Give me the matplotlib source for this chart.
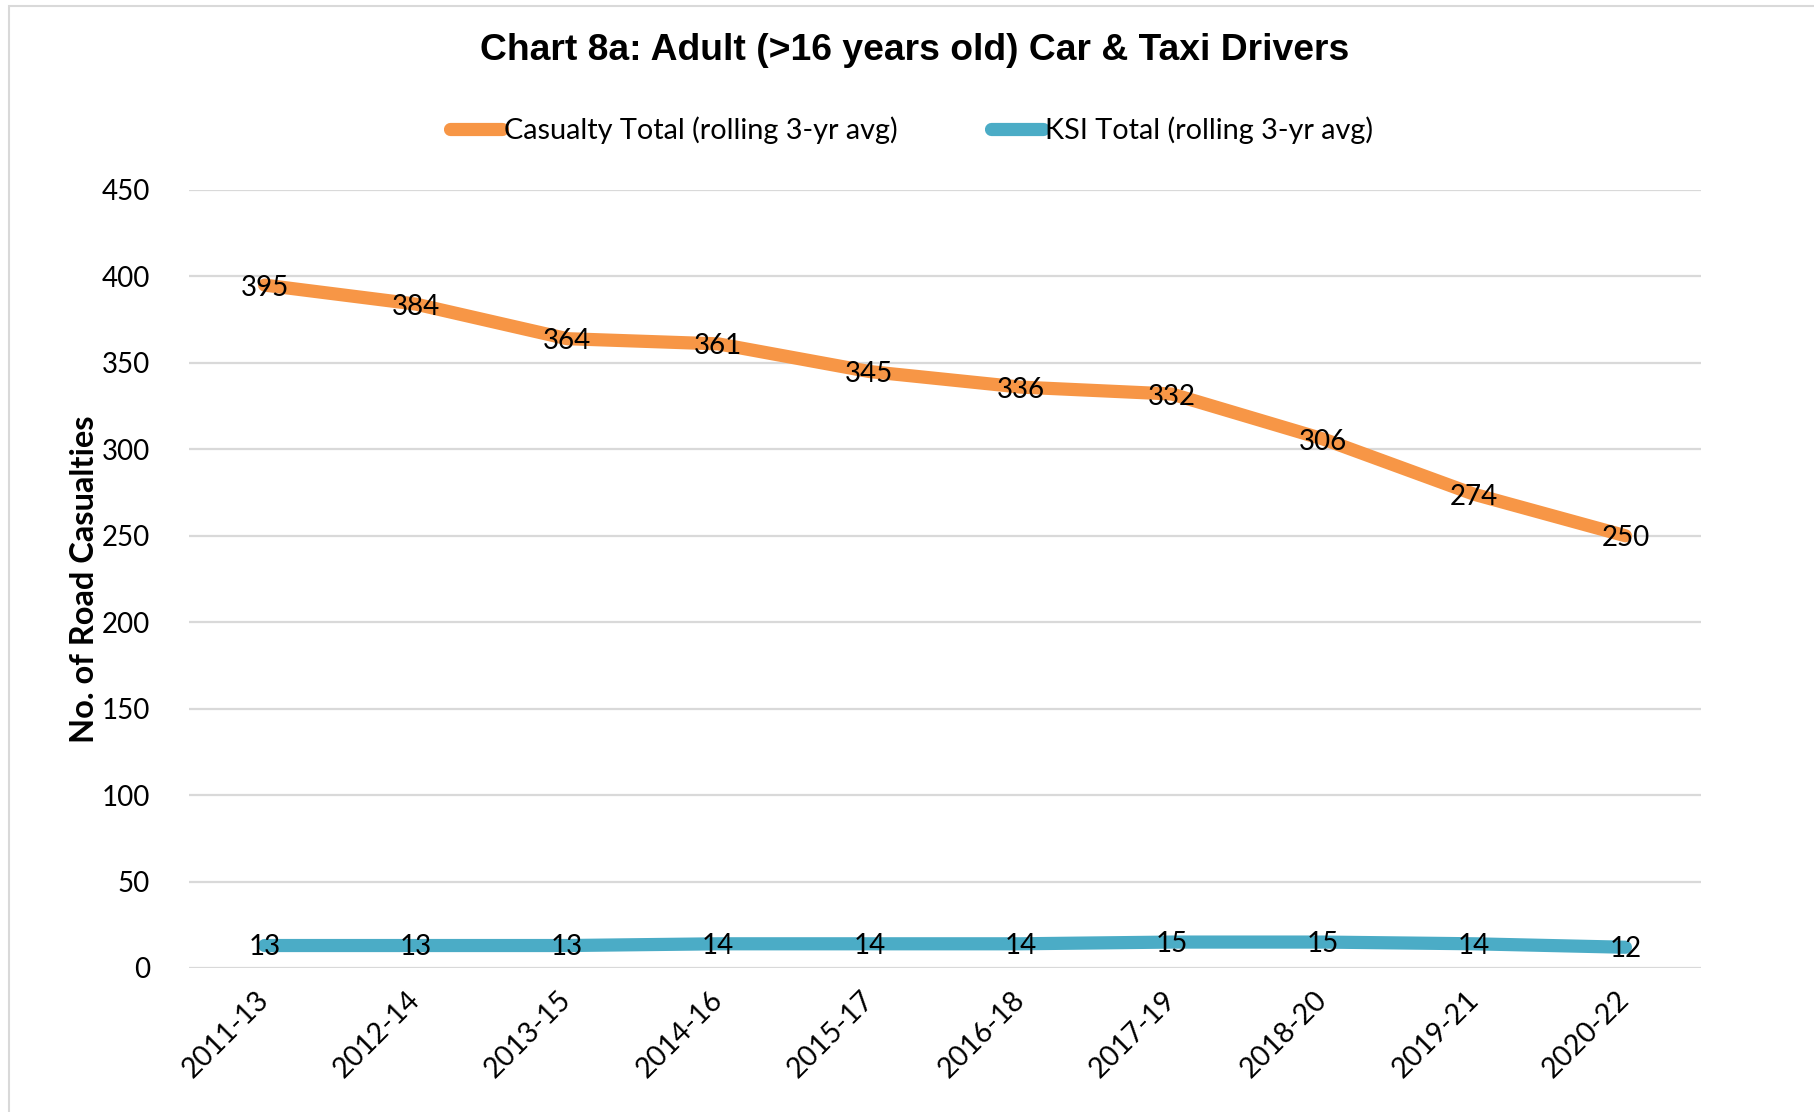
import matplotlib.pyplot as plt
from matplotlib.patches import Rectangle

periods = ['2011-13', '2012-14', '2013-15', '2014-16', '2015-17',
           '2016-18', '2017-19', '2018-20', '2019-21', '2020-22']
casualty_total = [395, 384, 364, 361, 345, 336, 332, 306, 274, 250]
ksi_total = [13, 13, 13, 14, 14, 14, 15, 15, 14, 12]
y_ticks = [0, 50, 100, 150, 200, 250, 300, 350, 400, 450]

orange = '#F79646'
blue = '#4BACC6'
body_font = ['Lato', 'DejaVu Sans']

W, H = 1814, 1112
fig = plt.figure(figsize=(W / 100, H / 100), dpi=100)
# plot area in pixels: x 189..1701, y 190..968
ax = fig.add_axes([189 / W, 1 - 968 / H, (1701 - 189) / W, (968 - 190) / H])

# chart-area frame
fig.patches.append(Rectangle((9 / W, -0.01), 1.1, 1 - 6 / H + 0.01,
                             transform=fig.transFigure, fill=False,
                             edgecolor='#D9D9D9', linewidth=1.5))

x = list(range(len(periods)))
ax.plot(x, casualty_total, color=orange, linewidth=9.5,
        solid_capstyle='round', solid_joinstyle='round',
        label='Casualty Total (rolling 3-yr avg)')
ax.plot(x, ksi_total, color=blue, linewidth=9.5,
        solid_capstyle='round', solid_joinstyle='round',
        label='KSI Total (rolling 3-yr avg)')

for xi, v in zip(x, casualty_total):
    ax.text(xi, v - 1.5, f'{v}', ha='center', va='center', fontsize=20,
            family=body_font, color='black')
for xi, v in zip(x, ksi_total):
    ax.text(xi, v - 1, f'{v}', ha='center', va='center', fontsize=20,
            family=body_font, color='black')

ax.set_xlim(-0.5, len(periods) - 0.5)
ax.set_ylim(0, 450)
ax.set_yticks(y_ticks)
ax.set_yticklabels([str(t) for t in y_ticks], family=body_font, fontsize=20)
ax.set_xticks(x)
ax.set_xticklabels(periods, rotation=45, ha='right', va='center',
                   rotation_mode='anchor', family=body_font, fontsize=20.5)
ax.tick_params(axis='both', length=0)
ax.tick_params(axis='y', pad=28)
ax.tick_params(axis='x', pad=20)
ax.grid(axis='y', color='#D9D9D9', linewidth=1.6)
ax.set_axisbelow(True)
for s in ax.spines.values():
    s.set_visible(False)

ax.set_ylabel('No. of Road Casualties', fontsize=23.5, fontweight='bold',
              family=body_font, labelpad=2)

fig.text(0.5 * (480 + 1349) / W, 1 - 50 / H,
         'Chart 8a: Adult (>16 years old) Car & Taxi Drivers',
         ha='center', va='center', fontsize=26.8, fontweight='bold',
         family=['Liberation Sans', 'DejaVu Sans'])

leg = fig.legend(loc='center', bbox_to_anchor=(0.5 * (443 + 1380) / W, 1 - 130 / H),
                 ncol=2, frameon=False, handlelength=1.8, handletextpad=0.1,
                 columnspacing=3.2, prop={'family': body_font, 'size': 20.8})

fig.savefig('out.png', dpi=100, facecolor='white')
